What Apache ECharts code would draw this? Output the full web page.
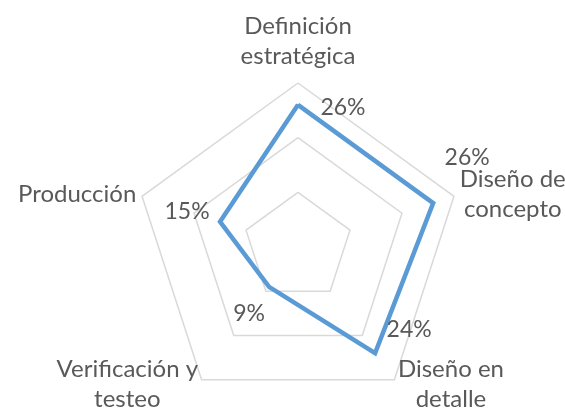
<!DOCTYPE html>
<html><head><meta charset="utf-8">
<script src="https://cdn.jsdelivr.net/npm/echarts@6/dist/echarts.min.js"></script>
<style>html,body{margin:0;padding:0;background:#fff}#c{width:565px;height:410px}</style>
</head><body><div id="c"></div>
<script>
// Data
const categories = ['Definición\nestratégica', 'Producción', 'Verificación y\ntesteo', 'Diseño en\ndetalle', 'Diseño de\nconcepto'];
const values = [0.26, 0.15, 0.09, 0.24, 0.26];
const axisMax = 0.3;

const FONT = 'Lato';
const TXT = '#595959';
const FS = 24;
const LFS = 23;

// per-vertex label shift (style only): [dx, dy]
const shifts = [[45, 3], [-33, -10], [-20, 27], [34, -24], [34, -46]];
const labelRich = {};
shifts.forEach((s, i) => {
  const dx = s[0], dy = s[1];
  labelRich['p' + i] = {
    fontFamily: FONT, fontSize: LFS, color: TXT,
    padding: [dy > 0 ? 2 * dy : 0, dx < 0 ? -2 * dx : 0, dy < 0 ? -2 * dy : 0, dx > 0 ? 2 * dx : 0]
  };
});

const chart = echarts.init(document.getElementById('c'), null, {renderer: 'canvas'});
chart.setOption({
  animation: false,
  backgroundColor: '#ffffff',
  radar: {
    center: [298, 247],
    radius: 164,
    startAngle: 90,
    shape: 'polygon',
    splitNumber: 3,
    nameGap: 6,
    indicator: categories.map(n => ({name: n, min: 0, max: axisMax})),
    axisName: {
      color: TXT, fontFamily: FONT, fontSize: FS,
      formatter: function (name) {
        const lines = name.split('\n').map(l => '{c|' + l + '}');
        if (name === categories[0]) lines.push('{g| }');
        return lines.join('\n');
      },
      rich: {
        c: {align: 'center', lineHeight: 30, fontFamily: FONT, fontSize: FS, color: TXT},
        g: {lineHeight: 6, fontSize: 1}
      }
    },
    axisLine: {show: false},
    axisTick: {show: false},
    axisLabel: {show: false},
    splitArea: {show: false},
    splitLine: {lineStyle: {color: '#d9d9d9', width: 1.5}}
  },
  series: [{
    type: 'radar',
    symbol: 'circle',
    symbolSize: 2,
    itemStyle: {color: '#5b9bd5'},
    lineStyle: {color: '#5b9bd5', width: 4.5, join: 'miter'},
    label: {
      show: true,
      position: 'inside',
      formatter: function (p) {
        return '{p' + p.dimensionIndex + '|' + Math.round(p.value * 100) + '%}';
      },
      rich: labelRich
    },
    data: [{value: values, name: 'Fases'}]
  }]
});
</script>
</body></html>
